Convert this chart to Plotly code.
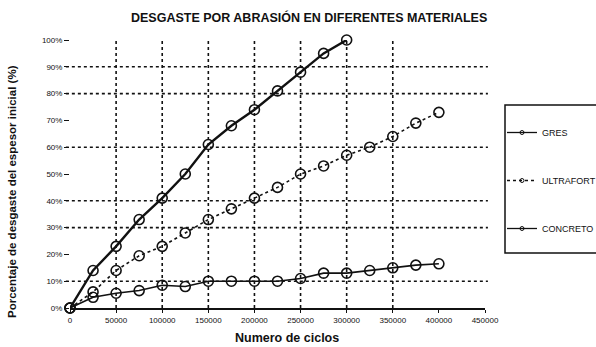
import plotly.graph_objects as go

# Abrasion wear, percentage of initial thickness lost vs. number of cycles
ciclos_gres = [0, 25000, 50000, 75000, 100000, 125000, 150000, 175000,
               200000, 225000, 250000, 275000, 300000]
gres = [0, 14, 23, 33, 41, 50, 61, 68, 74, 81, 88, 95, 100]

ciclos_ultra = [0, 25000, 50000, 75000, 100000, 125000, 150000, 175000,
                200000, 225000, 250000, 275000, 300000, 325000, 350000,
                375000, 400000]
ultrafort = [0, 6, 14, 19.5, 23, 28, 33, 37, 41, 45, 50, 53, 57, 60, 64, 69, 73]

ciclos_concreto = ciclos_ultra
concreto = [0, 4, 5.5, 6.5, 8.5, 8, 10, 10, 10, 10, 11, 13, 13, 14, 15, 16, 16.5]

x_ticks = list(range(0, 450001, 50000))
y_ticks = list(range(0, 101, 10))

# dashed reference lines
grid_x = [50000, 100000, 150000, 200000, 250000, 300000, 350000]
grid_y = [10, 30, 40, 60, 80, 90]

INK = "#111111"
FONT = "Liberation Sans, Arial, sans-serif"
marker = dict(symbol="circle-open", size=10, color=INK, line=dict(width=1.6, color=INK))

series = [
    ("GRES", ciclos_gres, gres, dict(color=INK, width=2.4)),
    ("ULTRAFORT", ciclos_ultra, ultrafort, dict(color=INK, width=1.6, dash="dot")),
    ("CONCRETO", ciclos_concreto, concreto, dict(color=INK, width=1.6)),
]

fig = go.Figure()
for i, (name, xs, ys, line) in enumerate(series):
    fig.add_trace(go.Scatter(
        x=xs, y=ys, name=name, mode="lines+markers", line=line,
        marker=marker, cliponaxis=False, showlegend=False))
for i, (name, xs, ys, line) in enumerate(series):
    # legend entries with small symbols
    fig.add_trace(go.Scatter(
        x=[None], y=[None], name=name, legendgroup=f"g{i}",
        mode="lines+markers", line=dict(line, width=1.3),
        marker=dict(symbol="circle-open", size=4, color=INK, line=dict(width=1, color=INK))))

shapes = []
for gx in grid_x:
    shapes.append(dict(type="line", xref="x", yref="y", x0=gx, x1=gx, y0=0, y1=100,
                       line=dict(color=INK, width=1.6, dash="3px,3px"), layer="below"))
for gy in grid_y:
    shapes.append(dict(type="line", xref="paper", yref="y", x0=-0.01, x1=1.007, y0=gy, y1=gy,
                       line=dict(color=INK, width=1.6, dash="3px,3px"), layer="below"))
# legend frame
shapes.append(dict(type="rect", xref="paper", yref="paper",
                   x0=(505 - 70) / 415, x1=(640 - 70) / 415,
                   y0=(308 - 253) / 268, y1=(308 - 105) / 268,
                   line=dict(color=INK, width=1.5), fillcolor="rgba(0,0,0,0)"))

tick_font = dict(family=FONT, size=8, color=INK)

fig.update_layout(
    width=596, height=347,
    margin=dict(l=70, r=111, t=40, b=39, autoexpand=False),
    paper_bgcolor="white", plot_bgcolor="white",
    showlegend=True,
    shapes=shapes,
    xaxis=dict(range=[0, 450000], tickvals=x_ticks, ticktext=[str(v) for v in x_ticks],
               showgrid=False, zeroline=False, showline=True, linecolor=INK, linewidth=2,
               ticks="outside", ticklen=3, tickcolor=INK, tickfont=tick_font),
    yaxis=dict(range=[0, 100], tickvals=y_ticks, ticktext=[f"{v}%" for v in y_ticks],
               showgrid=False, zeroline=False, showline=False,
               ticks="outside", ticklen=5, tickcolor=INK, tickfont=tick_font),
    legend=dict(x=(502 - 70) / 415, y=(308 - 118) / 268, xanchor="left", yanchor="top",
                borderwidth=0, bgcolor="rgba(0,0,0,0)",
                tracegroupgap=29,
                font=dict(family=FONT, size=9, color=INK),
                itemwidth=30),
    annotations=[
        dict(text="<b>DESGASTE POR ABRASIÓN EN DIFERENTES MATERIALES</b>",
             xref="paper", yref="paper", x=(309 - 70) / 415, y=(308 - 17) / 268,
             xanchor="center", yanchor="middle", showarrow=False,
             font=dict(family=FONT, size=12.5, color=INK)),
        dict(text="<b>Porcentaje de desgaste del espesor inicial (%)</b>",
             xref="paper", yref="paper", x=(12 - 70) / 415, y=(308 - 192) / 268,
             xanchor="center", yanchor="middle", textangle=-90, showarrow=False,
             font=dict(family=FONT, size=11.5, color=INK)),
        dict(text="<b>Numero de ciclos</b>",
             xref="paper", yref="paper", x=(287 - 70) / 415, y=(308 - 338) / 268,
             xanchor="center", yanchor="middle", showarrow=False,
             font=dict(family=FONT, size=12.5, color=INK)),
    ],
)

fig.write_html("out.html")
